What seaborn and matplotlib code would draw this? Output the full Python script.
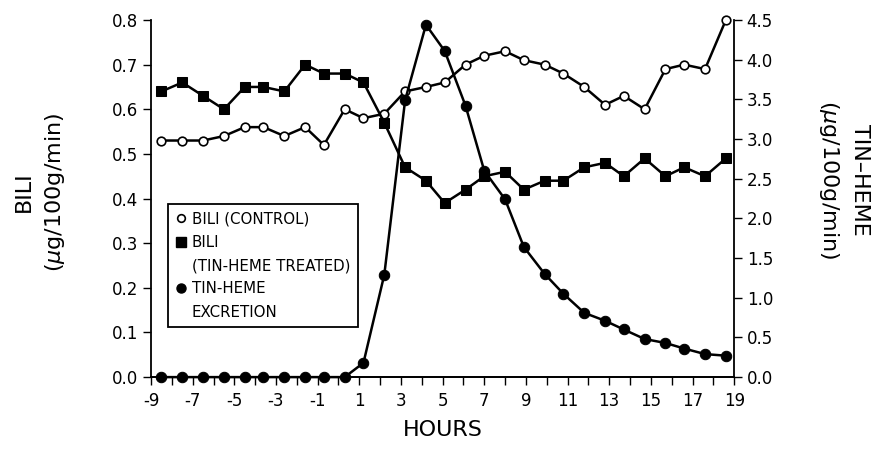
import matplotlib
matplotlib.use("Agg")
import matplotlib.pyplot as plt
from matplotlib.lines import Line2D
import seaborn as sns

# -----------------------------
# Data
# -----------------------------
hours = [-8.5, -7.5, -6.5, -5.5, -4.5, -3.6, -2.6, -1.6, -0.7, 0.3,
         1.2, 2.2, 3.2, 4.2, 5.1, 6.1, 7.0, 8.0, 8.9, 9.9,
         10.8, 11.8, 12.8, 13.7, 14.7, 15.7, 16.6, 17.6, 18.6]

bili_control = [0.53, 0.53, 0.53, 0.54, 0.56, 0.56, 0.54, 0.56, 0.52, 0.60,
                0.58, 0.59, 0.64, 0.65, 0.66, 0.70, 0.72, 0.73, 0.71, 0.70,
                0.68, 0.65, 0.61, 0.63, 0.60, 0.69, 0.70, 0.69, 0.80]

bili_treated = [0.64, 0.66, 0.63, 0.60, 0.65, 0.65, 0.64, 0.70, 0.68, 0.68,
                0.66, 0.57, 0.47, 0.44, 0.39, 0.42, 0.45, 0.46, 0.42, 0.44,
                0.44, 0.47, 0.48, 0.45, 0.49, 0.45, 0.47, 0.45, 0.49]

tin_heme = [0.0, 0.0, 0.0, 0.0, 0.0, 0.0, 0.0, 0.0, 0.0, 0.0,
            0.18, 1.29, 3.49, 4.44, 4.11, 3.42, 2.60, 2.24, 1.64, 1.30,
            1.05, 0.81, 0.71, 0.60, 0.48, 0.43, 0.36, 0.29, 0.27]

x_ticks = list(range(-9, 20))
x_tick_labels = [str(h) if h % 2 else "" for h in x_ticks]
left_ticks = [0.0, 0.1, 0.2, 0.3, 0.4, 0.5, 0.6, 0.7, 0.8]
right_ticks = [0.0, 0.5, 1.0, 1.5, 2.0, 2.5, 3.0, 3.5, 4.0, 4.5]

legend_labels = ["BILI (CONTROL)", "BILI", "(TIN-HEME TREATED)",
                 "TIN-HEME", "EXCRETION"]

# -----------------------------
# Style
# -----------------------------
sns.set_style("ticks")
plt.rcParams["font.family"] = ["DejaVu Sans"]
plt.rcParams["text.color"] = "black"
plt.rcParams["axes.labelcolor"] = "black"

fig = plt.figure(figsize=(8.73, 4.65), dpi=100)
ax = fig.add_axes([0.173, 0.189, 0.668, 0.768])
ax2 = ax.twinx()

# -----------------------------
# Lines
# -----------------------------
sns.lineplot(x=hours, y=bili_control, ax=ax, color="black", linewidth=1.8,
             marker="o", markersize=6.2, markerfacecolor="white",
             markeredgecolor="black", markeredgewidth=1.2, clip_on=False,
             zorder=3)
sns.lineplot(x=hours, y=bili_treated, ax=ax, color="black", linewidth=1.8,
             marker="s", markersize=6.8, markerfacecolor="black",
             markeredgecolor="black", clip_on=False, zorder=3)
sns.lineplot(x=hours, y=tin_heme, ax=ax2, color="black", linewidth=1.8,
             marker="o", markersize=7.5, markerfacecolor="black",
             markeredgecolor="black", clip_on=False, zorder=3)

# -----------------------------
# Axes
# -----------------------------
ax.set_xlim(-9, 19)
ax.set_ylim(0, 0.8)
ax2.set_ylim(0, 4.5)

ax.set_xticks(x_ticks)
ax.set_xticklabels(x_tick_labels)
ax.set_yticks(left_ticks)
ax.set_yticklabels([f"{v:.1f}" for v in left_ticks])
ax2.set_yticks(right_ticks)
ax2.set_yticklabels([f"{v:.1f}" for v in right_ticks])

for a in (ax, ax2):
    a.spines["top"].set_visible(False)
    for s in a.spines.values():
        s.set_linewidth(1.3)
        s.set_color("black")
ax.spines["right"].set_visible(False)
ax2.spines["left"].set_visible(False)

ax.tick_params(axis="both", direction="out", length=6, width=1,
               labelsize=12, pad=3, colors="black")
ax.tick_params(axis="x", pad=5)
ax2.tick_params(axis="y", direction="out", length=6, width=1,
                labelsize=12, pad=3, colors="black")

ax.set_ylabel("")
ax2.set_ylabel("")
ax.set_xlabel("HOURS", fontsize=16, labelpad=7)

fig.text(0.046, 0.587, "BILI\n($\\mu$g/100g/min)", rotation=90,
         ha="center", va="center", fontsize=16, linespacing=1.5,
         multialignment="center")
fig.text(0.966, 0.613, "TIN\u2013HEME\n($\\mu$g/100g/min)", rotation=270,
         ha="center", va="center", fontsize=16, linespacing=1.5,
         multialignment="center")

# -----------------------------
# Legend (markers only, two-line entries split)
# -----------------------------
handles = [
    Line2D([], [], ls="none", marker="o", color="black", mfc="white",
           ms=5.5, mew=1.2),
    Line2D([], [], ls="none", marker="s", color="black", ms=6.5),
    Line2D([], [], ls="none"),
    Line2D([], [], ls="none", marker="o", color="black", ms=6.5),
    Line2D([], [], ls="none"),
]
leg = ax2.legend(handles, legend_labels, loc="lower left",
                 bbox_to_anchor=(0.029, 0.14), frameon=True, fancybox=False,
                 edgecolor="black", framealpha=1, fontsize=10.8,
                 handlelength=0.7, handletextpad=0.4, labelspacing=0.55,
                 borderpad=0.5, borderaxespad=0)
leg.get_frame().set_linewidth(1.3)

plt.savefig("out.png", dpi=100)
